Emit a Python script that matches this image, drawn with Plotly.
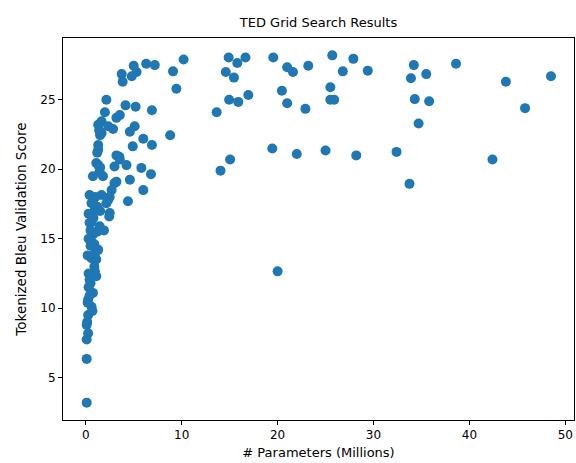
import plotly.graph_objects as go

# grid search results: parameter count (millions) vs tokenized BLEU
params_m = [
    48.5, 45.8, 43.8, 42.4, 38.6, 35.8, 35.5, 34.7, 34.3, 34.2, 33.9, 33.75, 32.4,
    29.4, 28.2, 27.9, 26.8, 25.9, 25.5, 25.5, 25.7, 25.0, 23.2, 22.9, 22.0, 21.6,
    21.0, 21.0, 20.45, 19.55, 19.45, 20.0, 16.65, 16.95, 15.8, 15.9, 15.45, 15.05,
    14.9, 14.95, 14.6, 14.05, 13.65, 10.2, 9.1, 9.45, 8.8,
    6.3, 7.2, 5.0, 5.3, 4.8, 3.75, 3.85,
    2.15, 4.15, 5.2, 6.9, 2.0, 3.55, 3.2, 1.65, 1.3, 2.35, 5.1, 4.6, 1.65, 1.5, 2.85, 1.4,
    6.0, 6.9, 4.9, 1.3, 1.3, 1.2, 3.2, 3.5, 3.55, 3.0, 4.25, 5.8, 6.8,
    1.1, 1.3, 1.45, 1.5, 3.2, 4.6, 3.0, 0.75, 1.8, 6.0, 2.7, 0.4, 1.65, 2.5, 2.35,
    2.15, 4.4, 0.6, 0.75, 0.95, 2.5, 2.45, 0.6, 0.4, 1.45, 1.9, 0.75, 0.3, 1.3, 0.5,
    0.6, 1.1, 0.9, 0.95, 0.4, 0.3, 0.75, 0.25, 0.6, 0.2, 0.25, 0.15, 0.1, 0.25, 0.1,
    0.1, 0.1,
    0.3, 0.5, 0.2, 0.6, 1.0, 0.8, 1.2, 1.0, 1.5, 1.2, 0.5, 0.3, 0.9, 0.4, 1.1, 0.7,
]
bleu = [
    26.7, 24.4, 26.3, 20.7, 27.6, 24.9, 26.85, 23.3, 25.05, 27.5, 26.55, 18.95, 21.25,
    27.1, 21.0, 27.95, 27.05, 25.0, 25.0, 25.9, 28.2, 21.35, 27.45, 24.35, 21.1, 27.0,
    27.35, 24.75, 25.65, 28.05, 21.5, 12.65, 28.05, 25.35, 27.65, 24.85, 26.6, 20.7,
    28.05, 25.0, 27.0, 19.9, 24.1, 27.9, 27.05, 25.8, 22.45,
    27.6, 27.5, 27.45, 27.0, 26.7, 26.85, 26.3,
    25.0, 24.6, 24.5, 24.25, 24.1, 23.9, 23.7, 23.45, 23.2, 23.1, 23.1, 22.7, 22.6, 22.45, 22.9, 22.8,
    22.2, 21.75, 21.65, 21.75, 21.4, 21.2, 21.0, 20.9, 20.7, 20.2, 20.3, 20.1, 19.65,
    20.45, 20.3, 19.85, 20.15, 19.1, 19.25, 19.0, 19.5, 19.5, 18.5, 18.5, 18.15, 18.15, 18.0, 17.8,
    17.55, 17.7, 17.55, 17.7, 17.1, 16.85, 16.6, 16.2, 16.15, 15.9, 15.6, 15.3, 15.0, 14.2, 14.5,
    13.6, 13.5, 13.0, 12.65, 12.05, 12.5, 11.1, 10.6, 10.1, 10.4, 9.5, 9.0, 8.8, 8.2, 7.75,
    6.35, 3.2,
    11.5, 11.8, 13.8, 14.8, 14.0, 16.5, 17.3, 18.0, 17.0, 15.5, 15.6, 16.8, 14.6, 10.9, 12.3, 9.8,
]

x_ticks = [0, 10, 20, 30, 40, 50]
y_ticks = [5, 10, 15, 20, 25]

fig = go.Figure()
fig.add_trace(go.Scatter(x=params_m, y=bleu, mode="markers",
                         marker=dict(color="#1f77b4", size=10, line_width=0)))

def axis(rng, ticks, label, standoff, size):
    return dict(range=rng, tickvals=ticks, showgrid=False, zeroline=False,
                showline=True, mirror=True, linecolor="black", linewidth=1,
                ticks="outside", ticklen=4, tickcolor="black",
                tickfont=dict(size=12, color="black"),
                title=dict(text=label, standoff=standoff,
                           font=dict(size=size, color="black")))

fig.update_layout(
    width=576, height=463,
    margin=dict(l=63, r=2, t=38, b=43),
    paper_bgcolor="white", plot_bgcolor="white",
    font=dict(family="DejaVu Sans", color="black"),
    title=dict(text="TED Grid Search Results", x=0.5, xref="paper",
               y=1 - 22 / 463, yref="container", yanchor="middle",
               font=dict(size=13, color="black")),
    xaxis=axis([-2.37, 50.9], x_ticks, "# Parameters (Millions)", 6, 13),
    yaxis=axis([1.95, 29.45], y_ticks, "Tokenized Bleu Validation Score", 10, 13.5),
    showlegend=False,
)
fig.write_html("out.html", config={"displayModeBar": False},
               post_script="document.body.style.margin='0';")
